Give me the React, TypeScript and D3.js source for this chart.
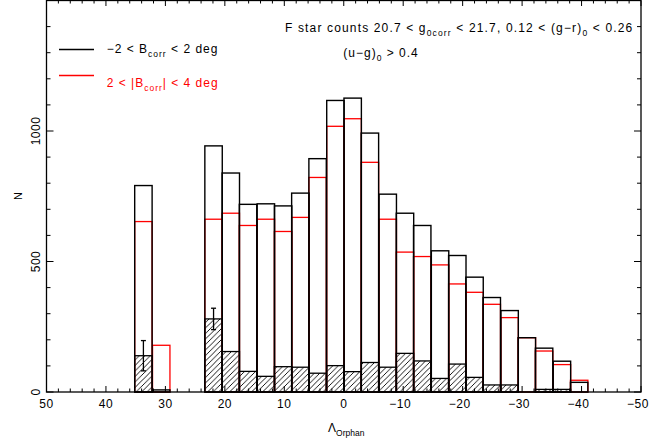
import React from "react";
import * as d3 from "d3";

// histogram bins in Lambda_Orphan (deg)
const binCenters = [
  33.7, 30.7, 27.8, 24.9, 21.9, 19.0, 16.1, 13.1, 10.2, 7.3, 4.4, 1.4, -1.5,
  -4.4, -7.4, -10.3, -13.2, -16.2, -19.1, -22.0, -24.9, -27.9, -30.8, -33.7,
  -36.7, -39.6,
];
const binWidth = 2.93;

// -2 < B_corr < 2 deg
const countsCenter = [
  791, 8, 0, 0, 943, 839, 719, 721, 713, 762, 894, 1117, 1126, 992, 758, 685,
  638, 541, 523, 440, 362, 312, 208, 168, 118, 37,
];
// 2 < |B_corr| < 4 deg
const countsSide = [
  653, 179, 0, 0, 662, 685, 638, 662, 615, 669, 822, 1018, 1047, 880, 662, 536,
  519, 487, 414, 382, 336, 285, 208, 157, 105, 45,
];
// hatched (background-subtracted) counts
const countsHatched = [
  139, 0, 0, 0, 280, 155, 79, 60, 97, 95, 72, 101, 78, 113, 95, 148, 119, 52,
  107, 56, 27, 27, 0, 10, 10, 0,
];
const errCenters = [33.7, 21.9];
const errValues = [139, 280];
const errSizes = [58, 41];

const xMajor = [50, 40, 30, 20, 10, 0, -10, -20, -30, -40, -50];
const yMajor = [0, 500, 1000];

const W = 662;
const H = 440;
const L = 46.5;
const R = 641;
const T = 0.5;
const B = 392;
const FONT = "'Liberation Sans', Arial, Helvetica, sans-serif";

export default function App() {
  const x = d3.scaleLinear().domain([50, -50]).range([L, R]);
  const y = d3.scaleLinear().domain([0, 1500]).range([B, T]);

  const xMinor = d3.range(48, -50, -2).filter((v) => v % 10 !== 0);
  const yMinor = d3.range(100, 1500, 100).filter((v) => v % 500 !== 0);

  const barRect = (i: number, v: number) => {
    const x0 = x(binCenters[i] + binWidth / 2);
    const x1 = x(binCenters[i] - binWidth / 2);
    return { x: x0, y: y(v), width: x1 - x0, height: y(0) - y(v) };
  };

  const fs = 12;
  const sub = 8.5;

  return (
    <svg
      width={W}
      height={H}
      style={{ position: "absolute", left: 0, top: 0, background: "#fff" }}
      fontFamily={FONT}
    >
      <defs>
        <pattern
          id="hatch"
          patternUnits="userSpaceOnUse"
          width={5.5}
          height={5.5}
        >
          <path
            d="M0,5.5 L5.5,0 M-1.4,1.4 L1.4,-1.4 M4.1,6.9 L6.9,4.1"
            stroke="#000"
            strokeWidth={0.9}
          />
        </pattern>
      </defs>

      {/* hatched fill */}
      {countsHatched.map((v, i) =>
        v > 0 ? (
          <rect key={"hf" + i} {...barRect(i, v)} fill="url(#hatch)" />
        ) : null
      )}
      {/* red histogram */}
      {countsSide.map((v, i) =>
        v > 0 ? (
          <rect
            key={"r" + i}
            {...barRect(i, v)}
            fill="none"
            stroke="#ff0000"
            strokeWidth={1.3}
          />
        ) : null
      )}
      {/* black histogram */}
      {countsCenter.map((v, i) =>
        v > 0 ? (
          <rect
            key={"b" + i}
            {...barRect(i, v)}
            fill="none"
            stroke="#000"
            strokeWidth={1.4}
          />
        ) : null
      )}
      {countsHatched.map((v, i) =>
        v > 0 ? (
          <rect
            key={"ho" + i}
            {...barRect(i, v)}
            fill="none"
            stroke="#000"
            strokeWidth={1.3}
          />
        ) : null
      )}
      {errCenters.map((c, i) => (
        <g key={"e" + i} stroke="#000" strokeWidth={1.3}>
          <line
            x1={x(c)}
            x2={x(c)}
            y1={y(errValues[i] - errSizes[i])}
            y2={y(errValues[i] + errSizes[i])}
          />
          <line
            x1={x(c) - 2.5}
            x2={x(c) + 2.5}
            y1={y(errValues[i] - errSizes[i])}
            y2={y(errValues[i] - errSizes[i])}
          />
          <line
            x1={x(c) - 2.5}
            x2={x(c) + 2.5}
            y1={y(errValues[i] + errSizes[i])}
            y2={y(errValues[i] + errSizes[i])}
          />
        </g>
      ))}

      {/* frame */}
      <rect
        x={L}
        y={T}
        width={R - L}
        height={B - T}
        fill="none"
        stroke="#000"
        strokeWidth={1.3}
      />

      {/* ticks */}
      <g stroke="#000" strokeWidth={1}>
        {xMinor.map((v) => (
          <g key={"xm" + v}>
            <line x1={x(v)} x2={x(v)} y1={B} y2={B - 3.5} />
            <line x1={x(v)} x2={x(v)} y1={T} y2={T + 3} />
          </g>
        ))}
        {xMajor.map((v) => (
          <g key={"xM" + v}>
            <line x1={x(v)} x2={x(v)} y1={B} y2={B - 6} />
            <line x1={x(v)} x2={x(v)} y1={T} y2={T + 5.5} />
          </g>
        ))}
        {yMinor.map((v) => (
          <g key={"ym" + v}>
            <line x1={L} x2={L + 4} y1={y(v)} y2={y(v)} />
            <line x1={R} x2={R - 4} y1={y(v)} y2={y(v)} />
          </g>
        ))}
        {yMajor.map((v) => (
          <g key={"yM" + v}>
            <line x1={L} x2={L + 7} y1={y(v)} y2={y(v)} />
            <line x1={R} x2={R - 7} y1={y(v)} y2={y(v)} />
          </g>
        ))}
      </g>

      {/* x tick labels */}
      {xMajor.map((v) => (
        <text
          key={"xl" + v}
          x={x(v) + (v < 0 ? -3 : 0)}
          y={408}
          fontSize={fs}
          letterSpacing={0.5}
          textAnchor="middle"
        >
          {v < 0 ? "\u2212" + Math.abs(v) : String(v)}
        </text>
      ))}
      {/* y tick labels */}
      {yMajor.map((v) => (
        <text
          key={"yl" + v}
          transform={`translate(40,${y(v)}) rotate(-90)`}
          fontSize={fs}
          letterSpacing={0.5}
          textAnchor="middle"
        >
          {v}
        </text>
      ))}

      {/* axis titles */}
      <text x={328} y={432} fontSize={12}>
        Λ<tspan fontSize={sub} dy={4}>Orphan</tspan>
      </text>
      <text
        transform="translate(22,196) rotate(-90)"
        fontSize={11}
        textAnchor="middle"
      >
        N
      </text>

      {/* legend */}
      <line x1={59} x2={94} y1={49.5} y2={49.5} stroke="#000" strokeWidth={1.3} />
      <text x={106.7} y={53} fontSize={fs} letterSpacing={1}>
        {"\u22122 < B"}
        <tspan fontSize={sub} dy={4}>corr</tspan>
        <tspan dy={-4}>{" < 2 deg"}</tspan>
      </text>
      <line x1={59} x2={94} y1={75.5} y2={75.5} stroke="#ff0000" strokeWidth={1.3} />
      <text x={106.7} y={87} fontSize={fs} letterSpacing={1} fill="#ff0000">
        {"2 < |B"}
        <tspan fontSize={sub} dy={4}>corr</tspan>
        <tspan dy={-4}>{"| < 4 deg"}</tspan>
      </text>

      {/* selection text */}
      <text x={285} y={31.5} fontSize={fs} letterSpacing={1.15}>
        {"F star counts 20.7 < g"}
        <tspan fontSize={sub} dy={4}>0corr</tspan>
        <tspan dy={-4}>{" < 21.7, 0.12 < (g\u2212r)"}</tspan>
        <tspan fontSize={sub} dy={4}>0</tspan>
        <tspan dy={-4}>{" < 0.26"}</tspan>
      </text>
      <text x={343.3} y={57} fontSize={fs} letterSpacing={1}>
        {"(u\u2212g)"}
        <tspan fontSize={sub} dy={4}>0</tspan>
        <tspan dy={-4}>{" > 0.4"}</tspan>
      </text>
    </svg>
  );
}
